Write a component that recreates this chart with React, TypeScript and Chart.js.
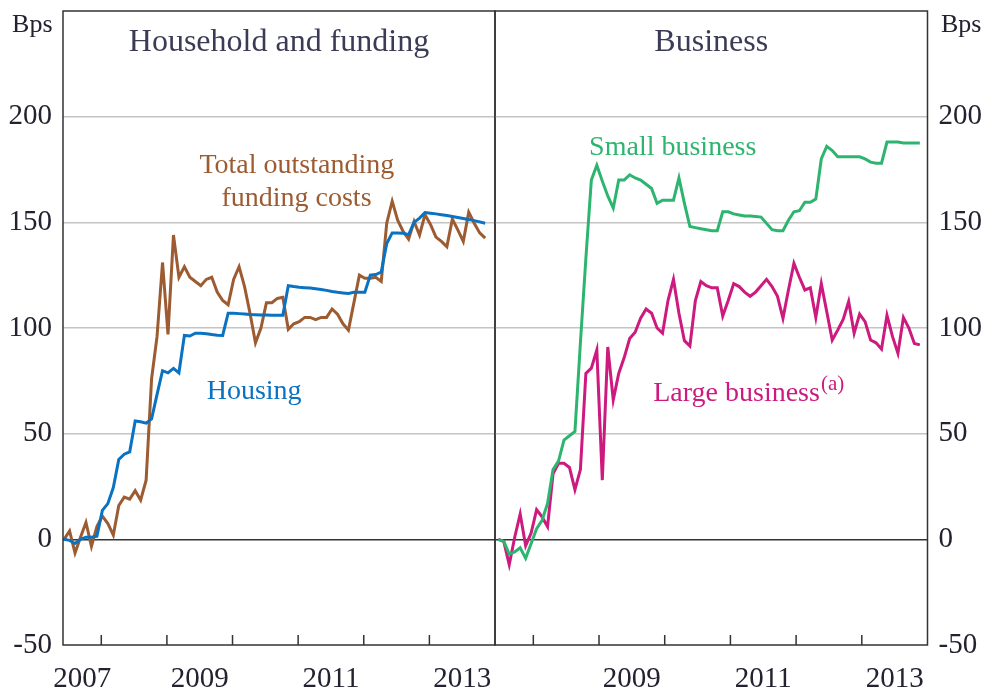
import React, { useEffect, useRef } from "react";
import { Chart, registerables } from "chart.js";

Chart.register(...registerables);

// ---------- data (monthly, June 2007 .. November 2013, basis points) ----------
const X_MIN = 2007 + 5 / 12; // June 2007
const X_MAX = 2014;
const HOUSEHOLD_START = X_MIN + 0.2 / 12;
const BUSINESS_START = X_MIN + 0.6 / 12;

const housing = [
  0, -0.5, -2, 0, 1, 1, 1.5, 13.7, 16.9, 24.5, 37.8, 40.3, 41.4, 56, 55.6, 55, 57, 68.6, 79.8, 78.8,
  80.9, 78.8, 96.5, 96.2, 97.5, 97.5, 97.3, 96.9, 96.6, 96.5, 107, 107, 106.8, 106.6, 106.4, 106.3,
  106.2, 106.1, 106, 106, 106, 120, 119.6, 119.3, 119.1, 118.9, 118.6, 118.2, 117.8, 117.3, 116.9,
  116.6, 116.3, 116.9, 116.9, 116.9, 125, 125.3, 126.5, 140, 145, 145, 144.8, 144.2, 150, 152, 154.6,
  154.3, 154, 153.6, 153.2, 152.8, 152.3, 151.8, 151.3, 150.8, 150.2, 149.6,
];

const fundingCosts = [
  0, 4, -6.5, 1, 8, -3.3, 6, 11, 7.5, 2, 16, 20, 19, 23, 18.5, 28, 76, 96, 131, 97, 144, 124, 129,
  124, 122, 120, 123, 124, 117, 113, 111, 123, 129, 119.6, 107, 93, 100, 112, 112, 114, 114.5, 99.4,
  102, 103, 105, 105, 104, 105, 105, 109, 106.5, 102, 99, 112, 125, 123.5, 123.5, 124, 122, 149.6,
  160, 151, 145.7, 142, 150.4, 144, 153.6, 149, 143, 141, 138.5, 151.5, 146.4, 141, 154.8, 149.6,
  145, 142.5,
];

const smallBusiness = [
  0, -1, -7, -6, -4, -9, -2, 5, 9, 17, 33, 37, 47, 49, 51, 93, 133, 170, 177, 169.5, 162.5, 156.7,
  170, 170, 172.5, 171, 170, 168, 166, 159, 160.5, 160.5, 160.5, 171, 159, 148, 147.5, 147, 146.5,
  146, 146, 155, 155, 154, 153.5, 153, 153, 152.8, 152.5, 149.5, 146.5, 146, 146, 151, 155, 155.5,
  159.5, 159.5, 161, 180, 186, 184, 181, 181, 181, 181, 181, 180, 178.5, 178, 178, 188, 188, 188,
  187.5, 187.5, 187.5, 187.5,
];

const largeBusiness = [
  0, -1, -12, 1, 12, -3, 3, 14, 10.6, 6, 31, 36, 36, 34, 23.5, 33, 78.5, 81, 89.6, 28, 91, 66, 78.5,
  86, 95, 98, 104.6, 109, 107, 100, 97.5, 113, 123, 107, 94, 91.5, 113, 122, 120, 119, 119, 105.7,
  113, 121, 119.6, 117, 115, 117, 120, 123, 119.6, 115, 104.6, 118, 130.6, 124, 118, 119, 105, 121,
  107.7, 94.3, 99, 104, 112.5, 97.5, 106.6, 103, 94.3, 93, 90, 106, 96, 88, 105, 100, 92.7, 92,
];

const yTicks = [-50, 0, 50, 100, 150, 200, 250];
const leftYearLabels = [2007, 2009, 2011, 2013];
const rightYearLabels = [2009, 2011, 2013];
const yearBoundaries = [2008, 2009, 2010, 2011, 2012, 2013];

// ---------- styles ----------
const FONT = "'Liberation Serif', 'Times New Roman', serif";
const FRAME = "#333333";
const GRID = "#c4c4c4";
const TEXT = "#222230";
const TITLE = "#3b3b55";
const BLUE = "#0a72c0";
const BROWN = "#9c5b30";
const GREEN = "#2db56f";
const MAGENTA = "#cc1a7e";

const toPoints = (vals: number[], start: number) =>
  vals.map((v, i) => ({ x: start + i / 12, y: v }));
const labelPos = (yr: number) => (Math.max(yr, X_MIN) + Math.min(yr + 1, X_MAX)) / 2;

type Note = { text: string; sup?: string; x: number; y: number; color: string; align: CanvasTextAlign };

function decorPlugin(side: "left" | "right", title: string, notes: Note[]) {
  return {
    id: "decor_" + side,
    afterDraw(chart: any) {
      const { ctx, chartArea: a, scales } = chart;
      const xs = scales.x;
      const ys = scales.y;
      ctx.save();
      // inward tick marks at year boundaries
      ctx.strokeStyle = FRAME;
      ctx.lineWidth = 1.5;
      ctx.beginPath();
      for (const yr of yearBoundaries) {
        const px = xs.getPixelForValue(yr);
        ctx.moveTo(px, a.bottom);
        ctx.lineTo(px, a.bottom - 10);
      }
      ctx.stroke();
      // frame
      ctx.strokeRect(a.left, a.top, a.right - a.left, a.bottom - a.top);
      // panel title
      ctx.fillStyle = TITLE;
      ctx.font = `32px ${FONT}`;
      ctx.textAlign = "center";
      ctx.textBaseline = "alphabetic";
      ctx.fillText(title, (a.left + a.right) / 2, a.top + 40);
      // unit label
      ctx.fillStyle = TEXT;
      ctx.font = `26px ${FONT}`;
      if (side === "left") {
        ctx.textAlign = "right";
        ctx.fillText("Bps", a.left - 10.5, a.top + 21);
      } else {
        ctx.textAlign = "left";
        ctx.fillText("Bps", a.right + 13.5, a.top + 21);
      }
      // series labels
      for (const n of notes) {
        const px = xs.getPixelForValue(n.x);
        const py = ys.getPixelForValue(n.y);
        ctx.fillStyle = n.color;
        ctx.font = `28px ${FONT}`;
        ctx.textAlign = n.align;
        ctx.fillText(n.text, px, py);
        if (n.sup) {
          const w = ctx.measureText(n.text).width;
          ctx.font = `21px ${FONT}`;
          ctx.textAlign = "left";
          ctx.fillText(n.sup, px + w + 1, py - 11);
        }
      }
      ctx.restore();
    },
  };
}

function makeConfig(side: "left" | "right") {
  const isLeft = side === "left";
  const datasets = isLeft
    ? [
        { data: toPoints(housing, HOUSEHOLD_START), borderColor: BLUE },
        { data: toPoints(fundingCosts, HOUSEHOLD_START), borderColor: BROWN },
      ]
    : [
        { data: toPoints(smallBusiness, BUSINESS_START), borderColor: GREEN },
        { data: toPoints(largeBusiness, BUSINESS_START), borderColor: MAGENTA },
      ];
  const notes: Note[] = isLeft
    ? [
        { text: "Total outstanding", x: 2010.98, y: 173.3, color: BROWN, align: "center" },
        { text: "funding costs", x: 2010.975, y: 157.7, color: BROWN, align: "center" },
        { text: "Housing", x: 2010.33, y: 66.5, color: BLUE, align: "center" },
      ]
    : [
        { text: "Small business", x: 2010.122, y: 181.8, color: GREEN, align: "center" },
        { text: "Large business", sup: "(a)", x: 2009.825, y: 65.5, color: MAGENTA, align: "left" },
      ];
  const yearLabels = isLeft ? leftYearLabels : rightYearLabels;

  return {
    type: "line" as const,
    data: {
      datasets: datasets.map((d) => ({
        ...d,
        borderWidth: 3,
        pointRadius: 0,
        fill: false,
        tension: 0,
        borderJoinStyle: "miter" as const,
      })),
    },
    options: {
      responsive: false,
      animation: false as const,
      layout: {
        padding: isLeft
          ? { top: 11, right: 2, left: 0, bottom: 0 }
          : { top: 11, right: 0, left: 1, bottom: 0 },
      },
      plugins: {
        legend: { display: false },
        tooltip: { enabled: false },
        title: { display: false },
      },
      scales: {
        x: {
          type: "linear" as const,
          min: X_MIN,
          max: X_MAX,
          afterBuildTicks: (s: any) => {
            s.ticks = yearLabels.map((yr) => ({ value: labelPos(yr) }));
          },
          afterFit: (s: any) => {
            s.height = 43;
            s.paddingLeft = 0;
            s.paddingRight = 0;
            s.paddingTop = 0;
            s.paddingBottom = 0;
          },
          ticks: {
            autoSkip: false,
            maxRotation: 0,
            padding: 17,
            color: TEXT,
            font: { family: FONT, size: 29 },
            callback: (v: any) => String(Math.floor(Number(v))),
          },
          grid: { display: false, drawTicks: false },
          border: { display: false },
        },
        y: {
          type: "linear" as const,
          position: side,
          min: -50,
          max: 250,
          afterBuildTicks: (s: any) => {
            s.ticks = yTicks.map((v) => ({ value: v }));
          },
          afterFit: (s: any) => {
            s.width = isLeft ? 63 : 58.5;
            s.paddingTop = 0;
            s.paddingBottom = 0;
            s.paddingLeft = 0;
            s.paddingRight = 0;
          },
          ticks: {
            padding: 11,
            color: TEXT,
            font: { family: FONT, size: 29 },
            callback: (v: any) => (Number(v) === 250 ? "" : String(v)),
          },
          grid: {
            drawTicks: false,
            lineWidth: 1.5,
            color: (c: any) => {
              const v = c.tick && c.tick.value;
              if (v === 0) return FRAME;
              if (v === 250 || v === -50) return "rgba(0,0,0,0)";
              return GRID;
            },
          },
          border: { display: false },
        },
      },
    },
    plugins: [decorPlugin(side, isLeft ? "Household and funding" : "Business", notes)],
  };
}

function Panel({ side, left, width }: { side: "left" | "right"; left: number; width: number }) {
  const ref = useRef<HTMLCanvasElement>(null);
  useEffect(() => {
    const chart = new Chart(ref.current as HTMLCanvasElement, makeConfig(side) as any);
    return () => chart.destroy();
  }, [side]);
  return (
    <canvas
      ref={ref}
      width={width}
      height={688}
      style={{ position: "absolute", left, top: 0, width, height: 688, display: "block" }}
    />
  );
}

export default function App() {
  return (
    <div
      style={{
        position: "fixed",
        left: 0,
        top: 0,
        width: 986,
        height: 688,
        background: "#ffffff",
        overflow: "hidden",
      }}
    >
      <Panel side="left" left={0} width={497} />
      <Panel side="right" left={494} width={492} />
    </div>
  );
}
